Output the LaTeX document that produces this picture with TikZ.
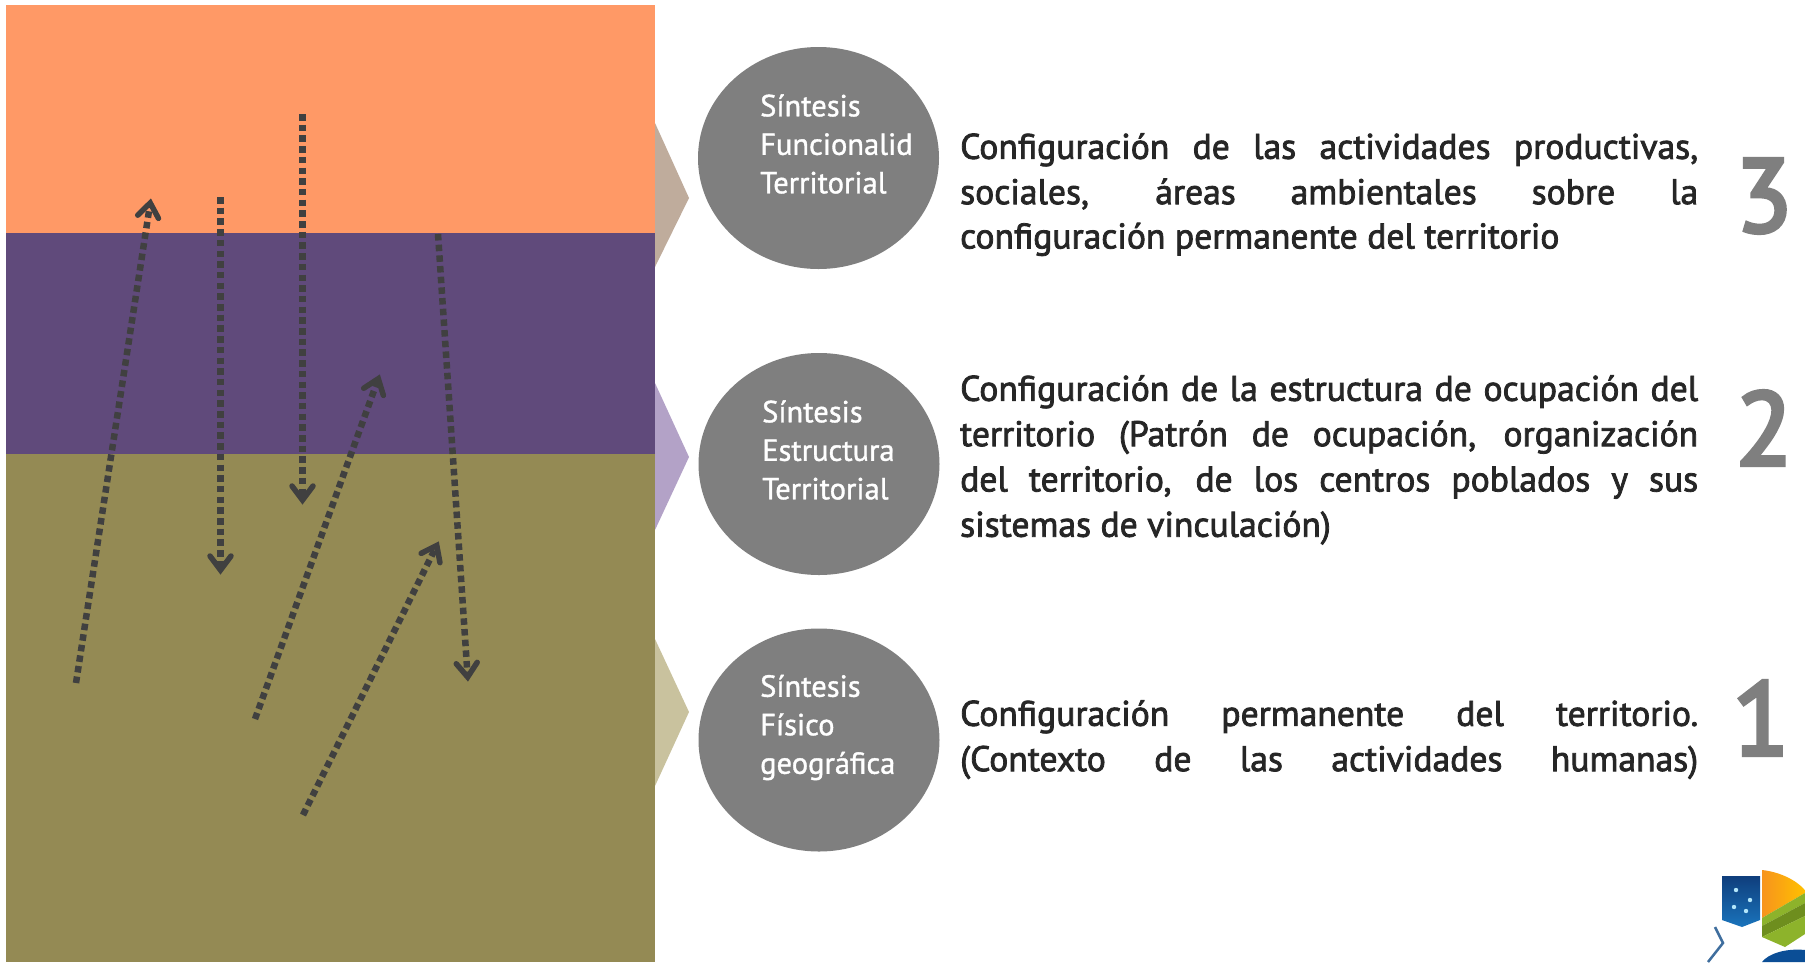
\documentclass[tikz,border=0pt]{standalone}
\usepackage{fontspec}
\usetikzlibrary{arrows.meta}
\setmainfont{PT Sans}
\newfontfamily\bodyfont[FakeBold=2.2]{PT Sans}
\newfontfamily\circfont[FakeBold=1.2]{PT Sans}
\newfontfamily\numfont[FakeBold=4]{PT Sans}
\definecolor{orangeband}{HTML}{FF9966}
\definecolor{purpleband}{HTML}{604A7B}
\definecolor{oliveband}{HTML}{948A54}
\definecolor{chevA}{HTML}{BFAC9C}
\definecolor{chevB}{HTML}{B3A2C7}
\definecolor{chevC}{HTML}{C9C29E}
\definecolor{circgray}{HTML}{7F7F7F}
\definecolor{dotgray}{HTML}{404040}
\definecolor{txtgray}{HTML}{262626}
\definecolor{numgray}{HTML}{7F7F7F}
\definecolor{logoA}{HTML}{0F3E7C}
\definecolor{logoB}{HTML}{1A74BC}
\definecolor{logoC}{HTML}{F7941D}
\definecolor{logoD}{HTML}{FFC000}
\definecolor{logoE}{HTML}{8DB32B}
\definecolor{logoF}{HTML}{6E8E1E}
\definecolor{logoG}{HTML}{0B4E96}
\definecolor{logoH}{HTML}{3F6E9E}
\pgfdeclarearrow{
  name=VHead,
  setup code={
    \pgfarrowssettipend{0pt}
    \pgfarrowssetbackend{-22pt}
    \pgfarrowssetlineend{-9pt}
    \pgfarrowssetvisualbackend{-9pt}
    \pgfarrowshullpoint{0pt}{0pt}
    \pgfarrowshullpoint{-22pt}{13pt}
    \pgfarrowshullpoint{-22pt}{-13pt}
  },
  drawing code={
    \pgfsetdash{}{0pt}
    \pgfsetroundcap
    \pgfsetmiterjoin
    \pgfsetlinewidth{5.5pt}
    \pgfpathmoveto{\pgfqpoint{-19pt}{10.5pt}}
    \pgfpathlineto{\pgfqpoint{-5pt}{0pt}}
    \pgfpathlineto{\pgfqpoint{-19pt}{-10.5pt}}
    \pgfusepathqstroke
  }
}
\tikzset{
  x=1pt,y=-1pt,
  band/.style={draw=none,minimum width=649pt,anchor=north west,inner sep=0pt},
  chevron/.style={fill=#1,draw=none},
  circtext/.style={text=white,font=\circfont\fontsize{30.5}{38.5}\selectfont,align=left,anchor=west,inner sep=0pt},
  bodytext/.style={text=txtgray,font=\bodyfont\fontsize{35.6}{45.3}\selectfont,align=left,anchor=north west,inner sep=0pt},
  bignum/.style={text=numgray,font=\numfont\fontsize{104}{104}\selectfont,inner sep=0pt},
  dotarrow/.style={draw=dotgray,line width=6.5pt,dash pattern=on 6.5pt off 4.2pt,-{VHead}}
}
\newcommand{\jl}[1]{\makebox[738pt][s]{#1}}
\begin{document}
\begin{tikzpicture}
\useasboundingbox (0,0) rectangle (1805,962);
\fill[white] (0,0) rectangle (1805,962);
% chevrons
\fill[chevron=chevA] (655,123) -- (689,198) -- (655,267) -- cycle;
\fill[chevron=chevB] (655,383) -- (689,457) -- (655,530) -- cycle;
\fill[chevron=chevC] (655,639) -- (689,712) -- (655,786) -- cycle;
% bands
\node[band,fill=orangeband,minimum height=228pt] (top) at (6,5) {};
\node[band,fill=purpleband,minimum height=221pt] (mid) at (6,233) {};
\node[band,fill=oliveband,minimum height=508pt] (bot) at (6,454) {};
% arrows
\coordinate (a1) at (76,683); \coordinate (a2) at (151,198);
\coordinate (b1) at (220.5,197); \coordinate (b2) at (220.5,575);
\coordinate (c1) at (302.5,114); \coordinate (c2) at (302.5,505);
\coordinate (d1) at (255,719); \coordinate (d2) at (380,374);
\coordinate (e1) at (303,815); \coordinate (e2) at (439,541);
\coordinate (f1) at (438,234); \coordinate (f2) at (468,682);
\foreach \p/\q in {a1/a2,b1/b2,c1/c2,d1/d2,e1/e2,f1/f2} \draw[dotarrow] (\p) -- (\q);
% circles
\fill[circgray] (818.5,158) ellipse [x radius=120.5,y radius=111];
\fill[circgray] (819,464) ellipse [x radius=120.5,y radius=111];
\fill[circgray] (819,740) ellipse [x radius=120.5,y radius=111.5];
\node[circtext] (s3) at (760,144) {Síntesis\\Funcionalid\\Territorial};
\node[circtext] (s2) at (762,450) {Síntesis\\Estructura\\Territorial};
\node[circtext] (s1) at (760,727.5) {Síntesis\\Físico\\geográfica};
% body
\node[bodytext] (t3) at (960,133) {\jl{Configuración de las actividades productivas,}\\\jl{sociales, áreas ambientales sobre la}\\[-1pt]configuración permanente del territorio};
\node[bodytext] (t2) at (960,375) {\jl{Configuración de la estructura de ocupación del}\\\jl{territorio (Patrón de ocupación, organización}\\\jl{del territorio, de los centros poblados y sus}\\sistemas de vinculación)};
\node[bodytext] (t1) at (960,700) {\jl{Configuración permanente del territorio.}\\\jl{(Contexto de las actividades humanas)}};
\node[bignum] (n3) at (1764,196) {3};
\node[bignum] (n2) at (1764,428) {2};
\node[bignum] (n1) at (1761,718) {1};
% logo
\shade[top color=logoA,bottom color=logoB] (1722,876) -- (1760,876) -- (1760,920) -- (1742,927) -- (1722,920) -- cycle;
\foreach \a/\b in {1736/890,1750/900,1734/907,1746/911} \fill[cyan!30] (\a,\b) circle (2.2);
\shade[left color=logoC,right color=logoD] (1762,870) .. controls (1780,872) and (1796,880) .. (1805,890) -- (1805,893) -- (1762,918) -- cycle;
\fill[logoE] (1762,918) -- (1805,893) -- (1805,903) -- (1762,926) -- cycle;
\fill[logoF] (1762,926) -- (1805,903) -- (1805,916) -- (1762,937) -- cycle;
\fill[logoE] (1762,937) -- (1805,916) -- (1805,934) -- (1785,947) -- cycle;
\fill[logoG] (1762,962) .. controls (1768,954) and (1785,948) .. (1805,950) -- (1805,962) -- cycle;
\draw[logoH,line width=2.5pt] (1715,927) -- (1723,943) -- (1708,962);
\end{tikzpicture}
\end{document}
